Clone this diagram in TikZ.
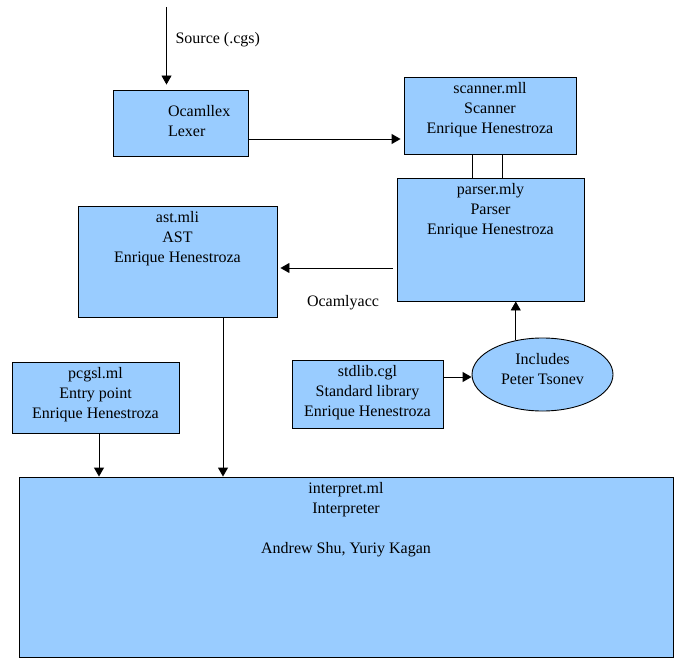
\documentclass[tikz,border=0pt]{standalone}
\usepackage{fontspec}
\setmainfont{Liberation Serif}
\usetikzlibrary{arrows.meta, shapes.geometric, positioning}
\definecolor{boxblue}{HTML}{99CCFF}
\tikzset{
	blk/.style={draw, fill=boxblue, line width=0.9pt, inner sep=0pt},
	ell/.style={blk, ellipse},
	txt/.style={font=\fontsize{16}{20}\selectfont, align=center},
	lin/.style={line width=0.9pt},
	arr/.style={lin, -{Triangle[length=9pt,width=10pt]}},
}

\begin{document}
\begin{tikzpicture}[x=1pt,y=-1pt]
			\useasboundingbox (0,0) rectangle (684,668);
			
			\node[blk, minimum width=135pt, minimum height=66pt] (lex) at (180.5,123) {};
			\node[blk, minimum width=172pt, minimum height=77pt] (scan) at (490,115.5) {};
			\node[blk, minimum width=187pt, minimum height=123pt] (pars) at (490.5,239.5) {};
			\node[blk, minimum width=199pt, minimum height=111pt] (ast) at (177.5,261.5) {};
			\node[blk, minimum width=167pt, minimum height=71pt] (entry) at (95.5,397.5) {};
			\node[blk, minimum width=151pt, minimum height=68pt] (std) at (367.5,394) {};
			\node[ell, minimum width=141pt, minimum height=73pt] (incl) at (542.5,374.5) {};
			\node[blk, minimum width=654pt, minimum height=180pt] (interp) at (346,567) {};
			
			\node[txt, align=left, anchor=north west] (lexT) at ([xshift=52pt,yshift=-12pt]lex.north west) {Ocamllex\\Lexer};
			\node[txt, anchor=north] (scanT) at ([yshift=-2.5pt]scan.north) {scanner.mll\\Scanner\\Enrique Henestroza};
			\node[txt, anchor=north] (parsT) at ([yshift=-2.5pt]pars.north) {parser.mly\\Parser\\Enrique Henestroza};
			\node[txt, anchor=north] (astT) at ([yshift=-2.5pt]ast.north) {ast.mli\\AST\\Enrique Henestroza};
			\node[txt, anchor=north] (entryT) at ([yshift=-2.5pt]entry.north) {pcgsl.ml\\Entry point\\Enrique Henestroza};
			\node[txt, anchor=north] (stdT) at ([yshift=-2.5pt]std.north) {stdlib.cgl\\Standard library\\Enrique Henestroza};
			\node[txt] (inclT) at ([yshift=5pt]incl.center) {Includes\\Peter Tsonev};
			\node[txt, anchor=north] (interpT) at ([yshift=-2.5pt]interp.north) {interpret.ml\\Interpreter\\[19.5pt]Andrew Shu, Yuriy Kagan};
			
			\coordinate (src) at (166.5,7);
			\node[txt, anchor=west] (srcT) at (172,39.5) {Source (.cgs)};
			\node[txt] (yaccT) at (343,303) {Ocamlyacc};
			
			\draw[arr, shorten >=5pt] (src) -- (src |- lex.north);
			\draw[arr, shorten >=3pt] ([yshift=-16pt]lex.east) -- ([yshift=-16pt]lex.east -| scan.west);
			\draw[lin] ([xshift=-18pt]scan.south) -- ([xshift=-18pt]scan.south |- pars.north);
			\draw[lin] ([xshift=12pt]scan.south) -- ([xshift=12pt]scan.south |- pars.north);
			\draw[arr, shorten <=4pt, shorten >=3pt] ([yshift=-28.5pt]pars.west) -- ([yshift=-28.5pt]pars.west -| ast.east);
			\draw[arr] (incl.128) -- (incl.128 |- pars.south);
			\draw[arr] ([yshift=17pt]std.east) -- ([yshift=17pt]std.east -| incl.west);
			\draw[arr] ([xshift=3.5pt]entry.south) -- ([xshift=3.5pt]entry.south |- interp.north);
			\draw[arr] ([xshift=45.5pt]ast.south) -- ([xshift=45.5pt]ast.south |- interp.north);
			
		\end{tikzpicture}
\end{document}
